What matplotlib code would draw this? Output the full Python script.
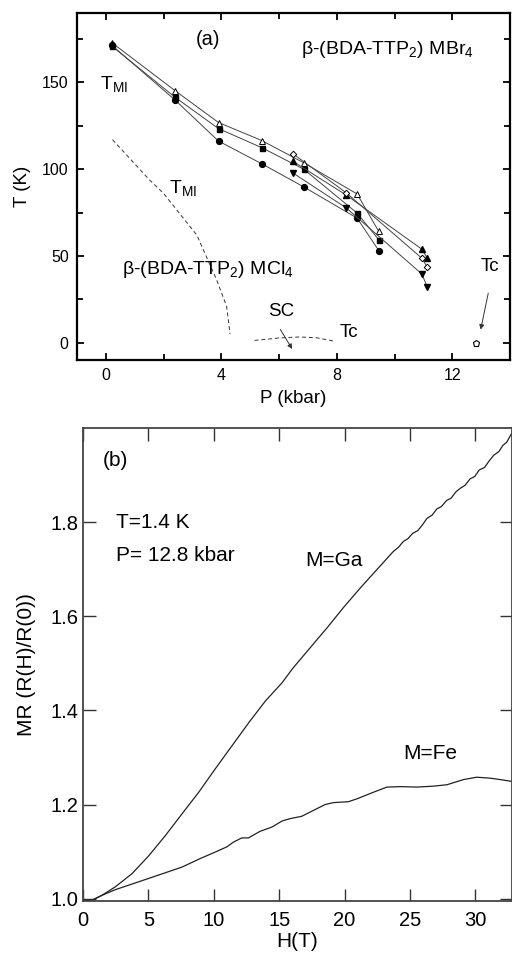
import matplotlib
matplotlib.use("Agg")
import matplotlib.pyplot as plt
from matplotlib.ticker import MultipleLocator

plt.rcParams['font.family'] = ['Liberation Sans', 'DejaVu Sans']
plt.rcParams['mathtext.fontset'] = 'custom'
plt.rcParams['mathtext.rm'] = 'Liberation Sans'
plt.rcParams['mathtext.it'] = 'Liberation Sans:italic'
plt.rcParams['mathtext.bf'] = 'Liberation Sans:bold'

# ---------------- Panel (a) data ----------------
P_tri_open = [0.2, 2.4, 3.9, 5.4, 6.85, 8.7, 9.45]
T_tri_open = [173.0, 145.2, 126.9, 116.5, 103.7, 85.7, 64.1]

P_square = [0.2, 2.4, 3.9, 5.4, 6.85, 8.7, 9.45]
T_square = [171.0, 141.4, 123.4, 112.4, 100.0, 74.7, 59.3]

P_circle = [0.2, 2.4, 3.9, 5.4, 6.85, 8.7, 9.45]
T_circle = [171.5, 139.8, 116.2, 103.1, 89.8, 71.8, 53.1]

P_diamond = [6.47, 8.33, 10.94, 11.13]
T_diamond = [109.0, 86.3, 48.7, 43.5]

P_tri_up = [6.47, 8.33, 10.94, 11.13]
T_tri_up = [104.6, 85.0, 53.9, 48.7]

P_tri_down = [6.47, 8.33, 10.94, 11.13]
T_tri_down = [97.9, 77.6, 39.6, 32.2]

P_tc = [12.8]
T_tc = [0.0]

P_cl_tmi = [0.23, 1.5, 2.0, 3.15, 3.84, 4.18, 4.30]
T_cl_tmi = [117.0, 94.0, 86.0, 62.0, 36.0, 21.0, 5.0]

P_cl_tc = [5.15, 6.0, 6.7, 7.3, 7.9]
T_cl_tc = [1.3, 2.7, 3.3, 2.8, 0.9]

# ---------------- Panel (b) data ----------------
H_ga = [0.0, 0.4, 0.8, 1.45, 2.47, 3.75, 5.03, 6.3, 7.57, 8.85, 10.12, 11.4,
        12.68, 13.95, 15.2, 16.09, 17.4, 18.65, 19.9, 21.2, 22.5, 23.74,
        24.1, 24.5, 24.85, 25.2, 25.6, 25.95, 26.3, 26.7, 27.05, 27.4, 27.8,
        28.15, 28.5, 28.85, 29.2, 29.6, 29.95, 30.3, 30.7, 31.05, 31.4,
        31.8, 32.1, 32.4, 32.8]
MR_ga = [0.997, 0.996, 0.998, 1.007, 1.025, 1.053, 1.091, 1.134, 1.180, 1.226,
         1.276, 1.325, 1.374, 1.420, 1.458, 1.491, 1.534, 1.575, 1.618, 1.660,
         1.700, 1.738, 1.746, 1.759, 1.765, 1.776, 1.782, 1.794, 1.808, 1.815,
         1.828, 1.833, 1.846, 1.851, 1.864, 1.872, 1.878, 1.892, 1.897, 1.911,
         1.916, 1.930, 1.942, 1.950, 1.963, 1.970, 1.990]

H_fe = [0.0, 0.4, 0.8, 1.45, 2.47, 5.03, 7.57, 8.95, 10.12, 11.0, 11.5, 12.14,
        12.65, 13.54, 14.44, 15.23, 15.84, 16.73, 17.37, 18.52, 19.15, 20.3,
        20.94, 22.2, 23.24, 24.26, 25.53, 26.8, 27.83, 29.1, 30.1, 31.1,
        31.9, 32.8]
MR_fe = [0.997, 0.996, 0.998, 1.007, 1.019, 1.043, 1.067, 1.085, 1.099, 1.110,
         1.120, 1.129, 1.129, 1.143, 1.152, 1.165, 1.170, 1.175, 1.184, 1.200,
         1.204, 1.206, 1.212, 1.226, 1.237, 1.238, 1.237, 1.239, 1.242, 1.253,
         1.258, 1.256, 1.253, 1.249]

fig = plt.figure(figsize=(5.12, 9.59), dpi=100)

# ================= Panel (a) =================
axa = fig.add_axes([0.1504, 0.6246, 0.846, 0.3618])
lc = '#444444'
lw = 0.7
ms = 4.2
axa.plot(P_tri_open, T_tri_open, '-', color=lc, lw=lw, marker='^', ms=ms,
         mfc='white', mec='black', mew=0.7, zorder=3)
axa.plot(P_square, T_square, '-', color=lc, lw=lw, marker='s', ms=ms - 0.6,
         mfc='black', mec='black', zorder=3)
axa.plot(P_circle, T_circle, '-', color=lc, lw=lw, marker='o', ms=ms,
         mfc='black', mec='black', zorder=3)
axa.plot(P_diamond, T_diamond, '-', color=lc, lw=lw, marker='D', ms=ms - 0.9,
         mfc='white', mec='black', mew=0.7, zorder=4)
axa.plot(P_tri_up, T_tri_up, '-', color=lc, lw=lw, marker='^', ms=ms,
         mfc='black', mec='black', zorder=3)
axa.plot(P_tri_down, T_tri_down, '-', color=lc, lw=lw, marker='v', ms=ms,
         mfc='black', mec='black', zorder=3)
axa.plot(P_tc, T_tc, linestyle='none', marker='p', ms=ms + 0.5,
         mfc='white', mec='black', mew=0.8, zorder=4)
axa.plot(P_cl_tmi, T_cl_tmi, '--', color='#333333', lw=0.7, dashes=(4, 3))
axa.plot(P_cl_tc, T_cl_tc, '--', color='#333333', lw=0.7, dashes=(4, 3))

axa.set_xlim(-1, 14)
axa.set_ylim(-10, 190)
axa.xaxis.set_major_locator(MultipleLocator(4))
axa.xaxis.set_minor_locator(MultipleLocator(2))
axa.yaxis.set_major_locator(MultipleLocator(50))
axa.yaxis.set_minor_locator(MultipleLocator(25))
axa.tick_params(which='both', direction='in', top=True, right=True,
                width=1.3, labelsize=11.5)
axa.tick_params(which='major', length=5, pad=6)
axa.tick_params(which='minor', length=4)
for s in axa.spines.values():
    s.set_linewidth(1.6)
axa.set_xlabel('P (kbar)', fontsize=13.5, labelpad=5)
axa.set_ylabel('T (K)', fontsize=13.5, labelpad=8)

axa.text(3.52, 175, '(a)', fontsize=14.5, ha='center', va='center')
axa.text(6.75, 169, r'β-(BDA-TTP$_2$) MBr$_4$', fontsize=14, ha='left', va='center')
axa.text(-0.2, 149, r'T$_{\rm MI}$', fontsize=14, ha='left', va='center')
axa.text(2.2, 89, r'T$_{\rm MI}$', fontsize=14, ha='left', va='center')
axa.text(0.55, 42, r'β-(BDA-TTP$_2$) MCl$_4$', fontsize=14, ha='left', va='center')
axa.text(6.07, 18, 'SC', fontsize=13.5, ha='center', va='center')
axa.text(8.4, 6, 'Tc', fontsize=13.5, ha='center', va='center')
axa.text(13.3, 44, 'Tc', fontsize=13.5, ha='center', va='center')
axa.annotate('', xy=(6.5, -5), xytext=(5.99, 9),
             arrowprops=dict(arrowstyle='-|>', color='#333333', lw=0.7,
                             mutation_scale=7))
axa.annotate('', xy=(12.96, 6), xytext=(13.26, 30),
             arrowprops=dict(arrowstyle='-|>', color='#333333', lw=0.7,
                             mutation_scale=7))

# ================= Panel (b) =================
axb = fig.add_axes([0.162, 0.0605, 0.838, 0.4932])
axb.plot(H_ga, MR_ga, '-', color='#222222', lw=0.9)
axb.plot(H_fe, MR_fe, '-', color='#222222', lw=0.9)
axb.set_xlim(0, 32.8)
axb.set_ylim(0.995, 2.0)
axb.xaxis.set_major_locator(MultipleLocator(5))
axb.set_yticks([1.0, 1.2, 1.4, 1.6, 1.8])
axb.tick_params(which='both', direction='in', top=True, right=True,
                length=9, width=1.0, labelsize=14.5, color='#333333')
axb.tick_params(axis='x', pad=7)
for s in axb.spines.values():
    s.set_linewidth(1.3)
    s.set_color('#444444')
axb.set_xlabel('H(T)', fontsize=15, labelpad=2)
axb.set_ylabel('MR (R(H)/R(0))', fontsize=15, labelpad=10)

axb.text(1.5, 1.932, '(b)', fontsize=15, ha='left', va='center')
axb.text(2.5, 1.800, 'T=1.4 K', fontsize=15, ha='left', va='center')
axb.text(2.5, 1.730, 'P= 12.8 kbar', fontsize=15, ha='left', va='center')
axb.text(17.0, 1.718, 'M=Ga', fontsize=15, ha='left', va='center')
axb.text(24.5, 1.309, 'M=Fe', fontsize=15, ha='left', va='center')

fig.savefig('out.png', dpi=100)
